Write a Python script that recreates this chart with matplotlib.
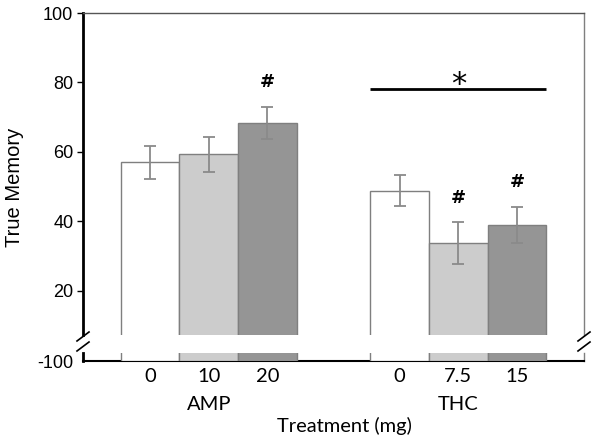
import matplotlib
matplotlib.use("Agg")
import matplotlib.pyplot as plt
from matplotlib.lines import Line2D
from matplotlib.transforms import blended_transform_factory

# data
groups = ["AMP", "THC"]
doses = [["0", "10", "20"], ["0", "7.5", "15"]]
means = [[57.0, 59.3, 68.3], [48.8, 33.8, 38.9]]
errs = [[4.7, 5.0, 4.7], [4.5, 6.0, 5.3]]
hash_marks = [[False, False, True], [False, True, True]]
star_level = 78
bar_colors = ["#ffffff", "#cccccc", "#959595"]
group_offsets = [0, 4.25]

W, H = 600, 442
fig = plt.figure(figsize=(6, 4.42), dpi=100)

def fx(px):
    return px / W

def fy(py):
    return 1 - py / H

left, right = 83, 584
ax = fig.add_axes([fx(left), fy(335), fx(right - left), fy(13) - fy(335)])
axb = fig.add_axes([fx(left), fy(361), fx(right - left), fy(353) - fy(361)])

xs, labels, heights, errors, cols, flags = [], [], [], [], [], []
for g, off in enumerate(group_offsets):
    for i in range(3):
        xs.append(off + i)
        labels.append(doses[g][i])
        heights.append(means[g][i])
        errors.append(errs[g][i])
        cols.append(bar_colors[i])
        flags.append(hash_marks[g][i])

xlim = (-1.14, 7.39)
for a in (ax, axb):
    a.bar(xs, [h + 100 for h in heights], bottom=-100, width=1.0,
          color=cols, edgecolor="#7f7f7f", linewidth=1.0, zorder=3)
    a.set_xlim(*xlim)

ax.errorbar(xs, heights, yerr=errors, fmt="none", ecolor="#8a8a8a",
            elinewidth=1.3, capsize=4, capthick=1.3, zorder=4)

ax.set_ylim(7.2, 100)
axb.set_ylim(-100, -97.7)

# spines
for a in (ax, axb):
    a.spines["left"].set_color("black")
    a.spines["left"].set_linewidth(2)
    a.spines["right"].set_color("#7f7f7f")
    a.spines["right"].set_linewidth(1)
ax.spines["bottom"].set_visible(False)
ax.spines["top"].set_color("#555555")
ax.spines["top"].set_linewidth(1)
axb.spines["top"].set_visible(False)
axb.spines["bottom"].set_color("black")
axb.spines["bottom"].set_linewidth(1.5)

ax.set_yticks([20, 40, 60, 80, 100])
ax.set_xticks([])
ax.tick_params(axis="y", length=4, width=1, labelsize=13, pad=3)
axb.set_yticks([-100])
axb.set_yticklabels(["-100"])
axb.tick_params(axis="y", length=0, labelsize=13, pad=7)
axb.set_xticks(xs)
axb.set_xticklabels(labels, fontfamily="Lato", fontsize=14.5)
axb.tick_params(axis="x", length=0, pad=5)

for a in (ax, axb):
    for t in a.get_yticklabels():
        t.set_fontfamily("Liberation Sans")

fig.text(fx(15), fy(187), "True Memory", rotation=90, ha="center", va="center",
         fontsize=14.5, family="Liberation Sans")

tr = blended_transform_factory(axb.transData, fig.transFigure)
for g, off in enumerate(group_offsets):
    fig.text(off + 1, fy(404), groups[g], transform=tr, ha="center", va="center",
             fontsize=14.5, family="Lato")
fig.text(fx(344), fy(426), "Treatment (mg)", ha="center", va="center",
         fontsize=14.5, family="Lato")

# significance marks
for x, h, e, f in zip(xs, heights, errors, flags):
    if f:
        ax.text(x, h + e + 7, "#", ha="center", va="center", fontsize=13,
                fontweight="bold")
thc_x = [off + i for i in range(3) for off in [group_offsets[1]]]
ax.hlines(star_level, min(thc_x) - 0.5, max(thc_x) + 0.5, color="black", lw=2, zorder=5)
ax.text(sum(thc_x) / 3, star_level + 1.5, "*", ha="center", va="center", fontsize=22)

# axis break marks
for bx in (left, right):
    for y0 in (341, 351):
        fig.add_artist(Line2D([fx(bx - 6), fx(bx + 6)], [fy(y0), fy(y0 - 9)],
                              color="black", lw=1.2))

fig.savefig("out.png", dpi=100)
